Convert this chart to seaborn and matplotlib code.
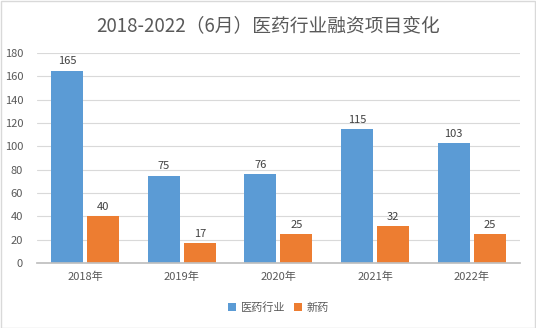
import matplotlib
matplotlib.use("Agg")
import matplotlib.pyplot as plt
import seaborn as sns
import pandas as pd
import numpy as np

years = ["2018年", "2019年", "2020年", "2021年", "2022年"]
industry = [165, 75, 76, 115, 103]
newdrug = [40, 17, 25, 32, 25]
series_names = ["医药行业", "新药"]
colors = ["#5B9BD5", "#ED7D31"]

sns.set_theme(style="white")
plt.rcParams['font.family'] = ['Noto Sans CJK SC', 'DejaVu Sans']

df = pd.DataFrame({
    "year": years * 2,
    "value": industry + newdrug,
    "series": [series_names[0]] * len(years) + [series_names[1]] * len(years),
})

fig = plt.figure(figsize=(5.36, 3.28), dpi=100)
ax = fig.add_axes([0.069, 0.198, 0.901, 0.640])
sns.barplot(data=df, x="year", y="value", hue="series", palette=colors,
            width=0.745, gap=0.11, ax=ax, saturation=1, legend=True, linewidth=0)

ax.set_ylim(0, 180)
ax.set_yticks(range(0, 181, 20))
ax.set_xlim(-0.5, len(years) - 0.5)
ax.grid(axis="y", color="#d9d9d9", linewidth=0.8)
ax.set_axisbelow(True)
for s in ["top", "right", "left"]:
    ax.spines[s].set_visible(False)
ax.spines["bottom"].set_color("#bfbfbf")
ax.set_xlabel("")
ax.set_ylabel("")
ax.tick_params(axis="y", length=0, labelsize=8, labelcolor="#595959", pad=10)
ax.tick_params(axis="x", length=0, labelsize=8, labelcolor="#595959", pad=6)
ax.set_xticks(np.arange(-0.5, len(years), 1), minor=True)
ax.tick_params(axis="x", which="minor", length=4, color="#bfbfbf", direction="out")

for cont in ax.containers:
    ax.bar_label(cont, padding=3, fontsize=8, color="#404040")

leg = ax.legend(loc="upper center", bbox_to_anchor=(0.5, -0.14), ncol=2, frameon=False,
                fontsize=8, handlelength=0.7, handleheight=0.7, handletextpad=0.4,
                columnspacing=0.8, labelcolor="#595959")

fig.suptitle("2018-2022（6月）医药行业融资项目变化", y=0.955, fontsize=13.5, color="#595959")

fig.patches.append(plt.Rectangle((0.001, 0.001), 0.997, 0.996, transform=fig.transFigure,
                                 fill=False, edgecolor="#d9d9d9", linewidth=1))
fig.savefig("out.png", dpi=100)
